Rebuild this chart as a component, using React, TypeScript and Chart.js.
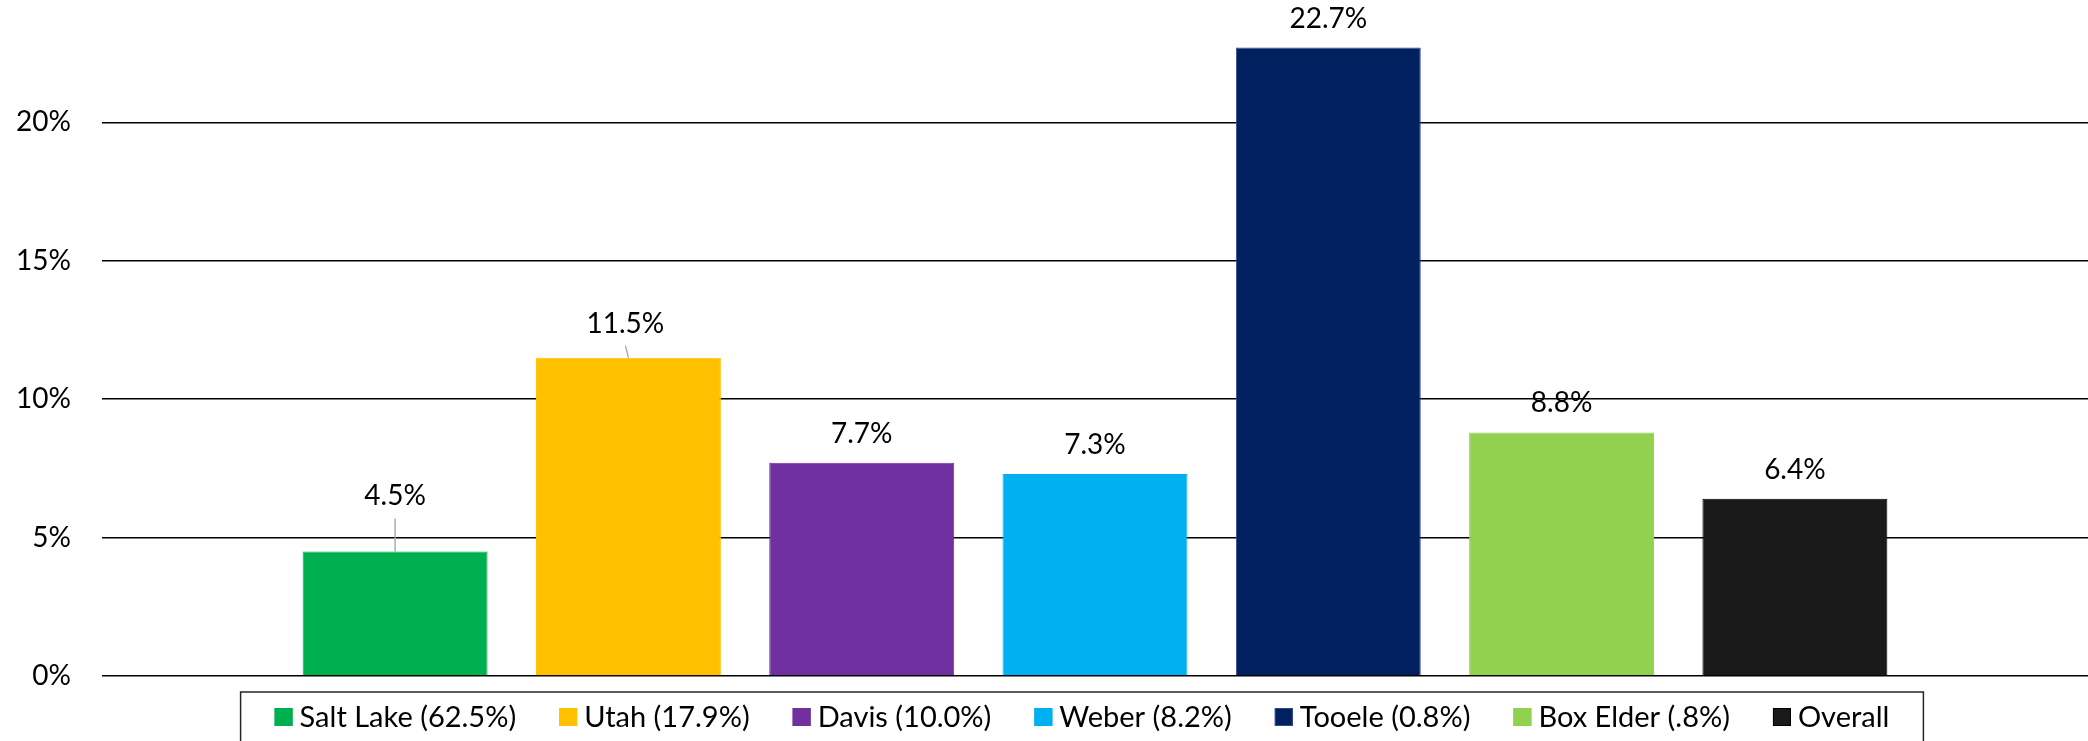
import { useEffect, useRef } from "react";
import { Chart, registerables } from "chart.js";

Chart.register(...registerables);

const seriesNames = [
  "Salt Lake (62.5%)",
  "Utah (17.9%)",
  "Davis (10.0%)",
  "Weber (8.2%)",
  "Tooele (0.8%)",
  "Box Elder (.8%)",
  "Overall",
];
const seriesValues = [4.5, 11.5, 7.7, 7.3, 22.7, 8.8, 6.4];
const seriesColors = ["#00B050", "#FFC000", "#7030A0", "#00B0F0", "#002060", "#92D050", "#1A1A1A"];
const seriesBorders = ["#00B050", "#FFC000", "#7030A0", "#00B0F0", "#2B4A8A", "#92D050", "#000000"];
const yTickValues = [0, 5, 10, 15, 20];
const yMax = 24.42;
const categories = [""];

// label nudges (px) for labels moved away from their bars, with leader lines
const labelNudges = [
  { dx: 0, dy: 26 },
  { dx: -3, dy: 5 },
  { dx: 0, dy: 0 },
  { dx: 0, dy: 0 },
  { dx: 0, dy: 0 },
  { dx: 0, dy: 0 },
  { dx: 0, dy: 0 },
];

const FONT = 'Lato, "Open Sans", sans-serif';
const LABEL_SIZE = 28;
const LEGEND_SIZE = 29;

const dataLabels = {
  id: "dataLabels",
  afterDatasetsDraw(chart: any) {
    const ctx = chart.ctx;
    ctx.save();
    ctx.font = `${LABEL_SIZE}px ${FONT}`;
    ctx.fillStyle = "#000";
    ctx.textAlign = "center";
    ctx.textBaseline = "middle";
    chart.data.datasets.forEach((ds: any, i: number) => {
      const meta = chart.getDatasetMeta(i);
      const bar = meta.data[0];
      if (!bar) return;
      const nudge = labelNudges[i] || { dx: 0, dy: 0 };
      const tx = bar.x + nudge.dx;
      const ty = bar.y - 29 - nudge.dy;
      ctx.fillText(ds.data[0].toFixed(1) + "%", tx, ty);
      if (nudge.dy > 3) {
        ctx.strokeStyle = "#A6A6A6";
        ctx.lineWidth = 1.4;
        ctx.beginPath();
        ctx.moveTo(tx, ty + 22);
        ctx.lineTo(bar.x, bar.y);
        ctx.stroke();
      }
    });
    ctx.restore();
  },
};

const boxLegend = {
  id: "boxLegend",
  afterDraw(chart: any) {
    const ctx = chart.ctx;
    const area = chart.chartArea;
    ctx.save();
    ctx.font = `${LEGEND_SIZE}px ${FONT}`;
    const sw = 18;
    const gap = 7;
    const itemGap = 43;
    const padX = 34;
    const datasets = chart.data.datasets;
    const widths = datasets.map((d: any) => ctx.measureText(d.label).width);
    const total =
      widths.reduce((a: number, w: number) => a + sw + gap + w, 0) + itemGap * (datasets.length - 1);
    const cx = (area.left + area.right) / 2 - 13;
    const top = area.bottom + 16;
    const cy = top + 25;
    let x = cx - total / 2;
    ctx.strokeStyle = "#262626";
    ctx.lineWidth = 1.5;
    ctx.strokeRect(x - padX, top, total + padX * 2, 120);
    ctx.textAlign = "left";
    ctx.textBaseline = "middle";
    datasets.forEach((d: any, i: number) => {
      ctx.fillStyle = d.backgroundColor;
      ctx.fillRect(x, cy - sw / 2, sw, sw);
      ctx.strokeStyle = d.borderColor;
      ctx.lineWidth = 1;
      ctx.strokeRect(x + 0.5, cy - sw / 2 + 0.5, sw - 1, sw - 1);
      ctx.fillStyle = "#000";
      ctx.fillText(d.label, x + sw + gap, cy + 1);
      x += sw + gap + widths[i] + itemGap;
    });
    ctx.restore();
  },
};

export default function App() {
  const canvasRef = useRef<HTMLCanvasElement | null>(null);

  useEffect(() => {
    const canvas = canvasRef.current;
    if (!canvas) return;
    const chart = new Chart(canvas, {
      type: "bar",
      data: {
        labels: categories,
        datasets: seriesNames.map((name, i) => ({
          label: name,
          data: [seriesValues[i]],
          backgroundColor: seriesColors[i],
          borderColor: seriesBorders[i],
          borderWidth: 1,
          categoryPercentage: 0.8223,
          barPercentage: 0.7927,
        })),
      },
      options: {
        responsive: false,
        animation: false,
        devicePixelRatio: 1,
        layout: { padding: { left: 0, right: -6, top: 0, bottom: 65 } },
        plugins: {
          legend: { display: false },
          tooltip: { enabled: false },
        },
        scales: {
          x: { display: false },
          y: {
            min: 0,
            max: yMax,
            afterBuildTicks: (scale: any) => {
              scale.ticks = yTickValues.map((v) => ({ value: v }));
            },
            afterFit: (scale: any) => {
              scale.width = 102;
              scale.paddingTop = 0;
              scale.paddingBottom = 0;
            },
            ticks: {
              padding: 0,
              color: "#000",
              font: { family: FONT, size: LABEL_SIZE, lineHeight: 0.0001 },
              callback: (v: any) => `${v}%`,
            },
            grid: {
              color: "#000",
              lineWidth: 1.4,
              drawTicks: true,
              tickLength: 31,
              tickColor: "rgba(0,0,0,0)",
            },
            border: { display: false },
          },
        },
      },
      plugins: [dataLabels, boxLegend],
    });
    return () => chart.destroy();
  }, []);

  return (
    <div style={{ position: "fixed", left: 0, top: 0, width: 2088, height: 741, background: "#fff" }}>
      <canvas ref={canvasRef} width={2088} height={741} style={{ display: "block" }} />
    </div>
  );
}
